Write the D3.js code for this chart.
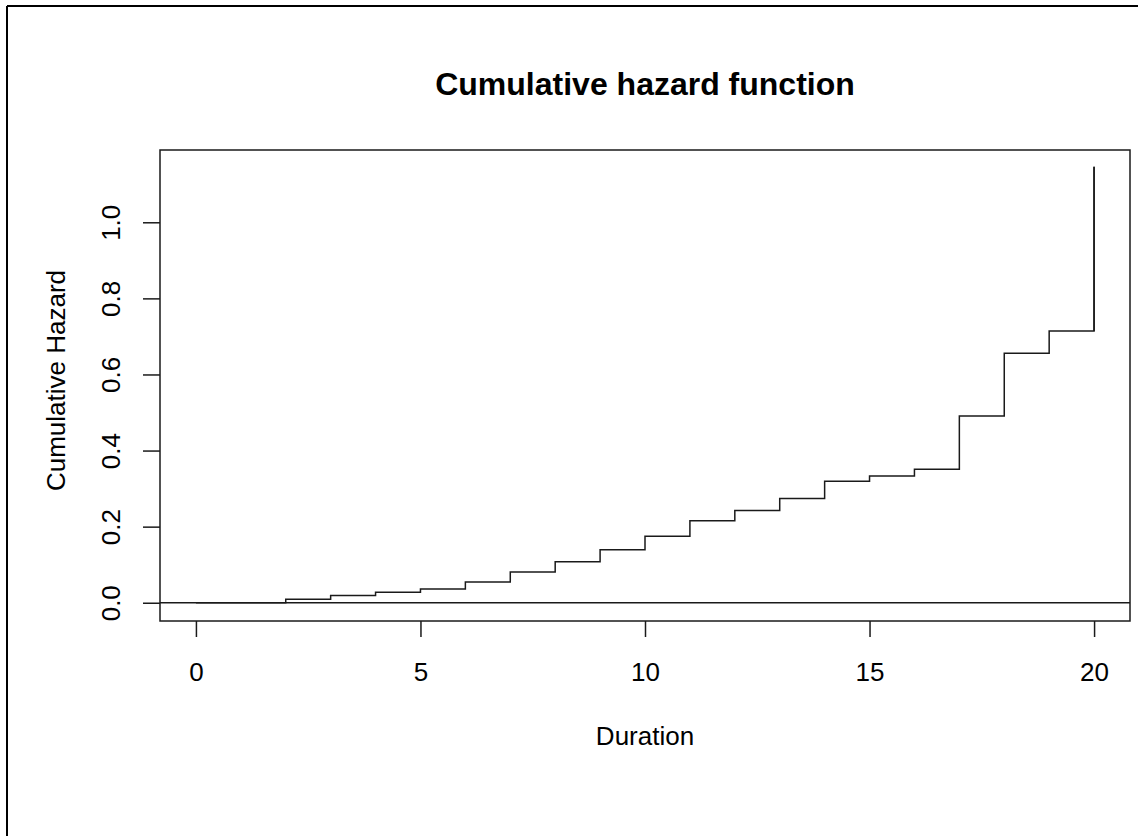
<!DOCTYPE html>
<html>
<head>
<meta charset="utf-8">
<script src="https://cdn.jsdelivr.net/npm/d3@7"></script>
<style>
  body { margin: 0; background: #fff; }
  text { font-family: "Liberation Sans", Arial, sans-serif; fill: #000; }
</style>
</head>
<body>
<div id="chart"></div>
<script>
// step times and cumulative hazard
const durations = [0, 2, 3, 4, 5, 6, 7, 8, 9, 10, 11, 12, 13, 14, 15, 16, 17, 18, 19, 20];
const cumHazard = [0, 0.009, 0.019, 0.0276, 0.036, 0.0546, 0.081, 0.108, 0.1396, 0.175,
  0.2155, 0.2425, 0.274, 0.319, 0.333, 0.351, 0.491, 0.656, 0.714, 1.146];
const xTicks = [0, 5, 10, 15, 20];
const yTicks = [0, 0.2, 0.4, 0.6, 0.8, 1.0];

(function () {
  const W = 1138, H = 836;
  const box = { left: 160, right: 1130, top: 150, bottom: 621 };
  const ink = "#1a1a1a";

  const data = durations.map((t, i) => ({ t, h: cumHazard[i] }));

  const svg = d3.select("#chart").append("svg")
    .attr("width", W)
    .attr("height", H);

  // R-style 4% padding on both axes
  const x = d3.scaleLinear()
    .domain([-0.8, 20.8])
    .range([box.left, box.right]);

  const y = d3.scaleLinear()
    .domain([-0.048, 1.19])
    .range([box.bottom, box.top]);

  // cropped outer frame (only top and left edges visible)
  svg.append("line")
    .attr("x1", 7).attr("x2", W).attr("y1", 6).attr("y2", 6)
    .attr("stroke", "#000").attr("stroke-width", 2);
  svg.append("line")
    .attr("x1", 7).attr("x2", 7).attr("y1", 6).attr("y2", H)
    .attr("stroke", "#000").attr("stroke-width", 2);

  svg.append("defs").append("clipPath")
    .attr("id", "plotClip")
    .append("rect")
    .attr("x", box.left).attr("y", box.top)
    .attr("width", box.right - box.left)
    .attr("height", box.bottom - box.top);

  // x axis
  const xAxis = svg.append("g")
    .attr("transform", `translate(0,${box.bottom})`)
    .call(d3.axisBottom(x).tickValues(xTicks).tickSize(16).tickPadding(0).tickFormat(d3.format("d")));
  xAxis.select(".domain").remove();
  xAxis.selectAll(".tick line").attr("stroke", ink).attr("stroke-width", 1.5);
  xAxis.selectAll(".tick text")
    .attr("y", 60)
    .attr("dy", null)
    .style("font-size", "26px");

  // y axis, labels rotated like R's las=0
  const yAxis = svg.append("g")
    .attr("transform", `translate(${box.left},0)`)
    .call(d3.axisLeft(y).tickValues(yTicks).tickSize(17).tickFormat(d3.format(".1f")));
  yAxis.select(".domain").remove();
  yAxis.selectAll(".tick line").attr("stroke", ink).attr("stroke-width", 1.5);
  yAxis.selectAll(".tick text")
    .attr("x", null)
    .attr("dy", null)
    .attr("text-anchor", "middle")
    .attr("transform", "translate(-40,0) rotate(-90)")
    .style("font-size", "26px");

  // zero reference line
  svg.append("line")
    .attr("clip-path", "url(#plotClip)")
    .attr("x1", box.left).attr("x2", box.right)
    .attr("y1", y(0)).attr("y2", y(0))
    .attr("stroke", ink).attr("stroke-width", 1.5);

  const step = d3.line()
    .x(d => x(d.t))
    .y(d => y(d.h))
    .curve(d3.curveStepAfter);

  svg.append("path")
    .datum(data)
    .attr("clip-path", "url(#plotClip)")
    .attr("fill", "none")
    .attr("stroke", ink)
    .attr("stroke-width", 1.5)
    .attr("d", step);

  // vertical jump at the last time
  const last = data[data.length - 1], prev = data[data.length - 2];
  svg.append("line")
    .attr("x1", x(last.t)).attr("x2", x(last.t))
    .attr("y1", y(prev.h)).attr("y2", y(last.h))
    .attr("stroke", ink).attr("stroke-width", 1.5);

  svg.append("rect")
    .attr("x", box.left).attr("y", box.top)
    .attr("width", box.right - box.left)
    .attr("height", box.bottom - box.top)
    .attr("fill", "none")
    .attr("stroke", ink)
    .attr("stroke-width", 1.5);

  svg.append("text")
    .attr("x", (box.left + box.right) / 2)
    .attr("y", 95)
    .attr("text-anchor", "middle")
    .style("font-size", "32px")
    .style("font-weight", "700")
    .text("Cumulative hazard function");

  svg.append("text")
    .attr("x", (box.left + box.right) / 2)
    .attr("y", 745)
    .attr("text-anchor", "middle")
    .style("font-size", "26px")
    .text("Duration");

  svg.append("text")
    .attr("transform", `translate(65,${(box.top + box.bottom) / 2 - 5}) rotate(-90)`)
    .attr("text-anchor", "middle")
    .style("font-size", "26px")
    .text("Cumulative Hazard");
})();
</script>
</body>
</html>
